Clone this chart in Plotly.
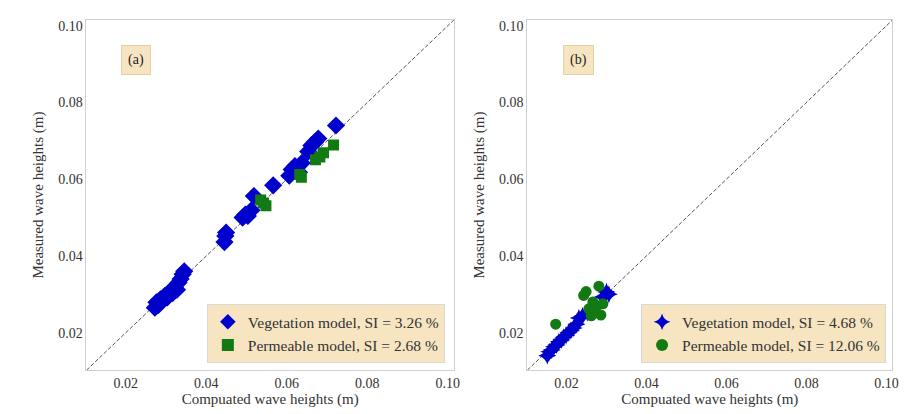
import plotly.graph_objects as go

# Panel (a): computed vs measured wave heights (m)
veg_a_x = [0.0272, 0.0276, 0.0281, 0.0286, 0.0291, 0.0297, 0.0303, 0.0309, 0.0316, 0.0322,
           0.0327, 0.0331, 0.0336, 0.0341, 0.0345,
           0.0445, 0.0447, 0.0449,
           0.0490, 0.0497, 0.0503, 0.0512, 0.0518, 0.0566,
           0.0606, 0.0612, 0.0620, 0.0630, 0.0637,
           0.0653, 0.0661, 0.0670, 0.0678, 0.0722]
veg_a_y = [0.0265, 0.0279, 0.0272, 0.0287, 0.0284, 0.0296, 0.0292, 0.0307, 0.0303, 0.0318,
           0.0312, 0.0331, 0.0340, 0.0352, 0.0360,
           0.0436, 0.0452, 0.0461,
           0.0500, 0.0508, 0.0504, 0.0519, 0.0556, 0.0584,
           0.0609, 0.0625, 0.0634, 0.0618, 0.0642,
           0.0672, 0.0688, 0.0697, 0.0706, 0.0740]
perm_a_x = [0.0535, 0.0542, 0.0548, 0.0632, 0.0636, 0.0671, 0.0682, 0.0691, 0.0716]
perm_a_y = [0.0546, 0.0538, 0.0531, 0.0612, 0.0605, 0.0651, 0.0658, 0.0669, 0.0689]

# Panel (b)
veg_b_x = [0.0152, 0.0157, 0.0163, 0.0169, 0.0175, 0.0181, 0.0187, 0.0193, 0.0199, 0.0205,
           0.0211, 0.0218, 0.0225, 0.0231, 0.0240, 0.0252, 0.0291, 0.0300, 0.0306]
veg_b_y = [0.0140, 0.0150, 0.0155, 0.0163, 0.0168, 0.0176, 0.0181, 0.0188, 0.0193, 0.0200,
           0.0205, 0.0212, 0.0222, 0.0238, 0.0243, 0.0252, 0.0293, 0.0306, 0.0300]
perm_b_x = [0.0173, 0.0243, 0.0249, 0.0256, 0.0262, 0.0266, 0.0270, 0.0276, 0.0281, 0.0286, 0.0291]
perm_b_y = [0.0222, 0.0297, 0.0307, 0.0262, 0.0244, 0.0280, 0.0258, 0.0270, 0.0321, 0.0246, 0.0275]

ax_range = [0.0102, 0.1015]
tick_vals = [0.02, 0.04, 0.06, 0.08, 0.10]
tick_text = ["0.02", "0.04", "0.06", "0.08", "0.10"]

BLUE = "#0000cc"
GREEN = "#127a12"
WHEAT = "rgba(245,222,179,0.8)"
FONT = "Liberation Serif"

fig = go.Figure()

# 1:1 reference lines
for xa, ya in (("x", "y"), ("x2", "y2")):
    fig.add_trace(go.Scatter(x=ax_range, y=ax_range, mode="lines", xaxis=xa, yaxis=ya,
                             line=dict(color="#555555", width=1, dash="4px,2px"),
                             showlegend=False, hoverinfo="skip"))

fig.add_trace(go.Scatter(x=veg_a_x, y=veg_a_y, mode="markers", xaxis="x", yaxis="y",
                         name="Vegetation model, SI = 3.26 %", legend="legend",
                         marker=dict(symbol="diamond", size=14, color=BLUE)))
fig.add_trace(go.Scatter(x=perm_a_x, y=perm_a_y, mode="markers", xaxis="x", yaxis="y",
                         name="Permeable model, SI = 2.68 %", legend="legend",
                         marker=dict(symbol="square", size=11, color=GREEN)))
fig.add_trace(go.Scatter(x=veg_b_x, y=veg_b_y, mode="markers", xaxis="x2", yaxis="y2",
                         name="Vegetation model, SI = 4.68 %", legend="legend2",
                         marker=dict(symbol="star-diamond", size=13, color=BLUE)))
fig.add_trace(go.Scatter(x=perm_b_x, y=perm_b_y, mode="markers", xaxis="x2", yaxis="y2",
                         name="Permeable model, SI = 12.06 %", legend="legend2",
                         marker=dict(symbol="circle", size=11, color=GREEN)))

axis_common = dict(range=ax_range, tickvals=tick_vals, ticktext=tick_text, showgrid=False,
                   zeroline=False, showline=True, mirror=True, linecolor="#d0d0d0", linewidth=1,
                   ticks="", tickfont=dict(family=FONT, size=14, color="#333333"))
title_font = dict(family=FONT, size=15, color="#333333")

legend_common = dict(bgcolor=WHEAT, bordercolor="#d8d8d8", borderwidth=1,
                     font=dict(family=FONT, size=15.5, color="#333333"),
                     xanchor="right", yanchor="bottom", itemsizing="constant",
                     tracegroupgap=0)

fig.update_layout(
    width=912, height=414,
    margin=dict(l=0, r=0, t=0, b=0),
    paper_bgcolor="white", plot_bgcolor="white",
    font=dict(family=FONT),
    xaxis=dict(domain=[0.0954, 0.501], anchor="y",
               title=dict(text="Compuated wave heights (m)", font=title_font, standoff=2),
               **axis_common),
    yaxis=dict(domain=[0.106, 0.954], anchor="x",
               title=dict(text="Measured wave heights (m)", font=title_font, standoff=10),
               **axis_common),
    xaxis2=dict(domain=[0.582, 0.985], anchor="y2",
                title=dict(text="Compuated wave heights (m)", font=title_font, standoff=2),
                **axis_common),
    yaxis2=dict(domain=[0.106, 0.954], anchor="x2",
                title=dict(text="Measured wave heights (m)", font=title_font, standoff=10),
                **axis_common),
    legend=dict(x=0.491, y=0.123, **legend_common),
    legend2=dict(x=0.978, y=0.123, **legend_common),
    annotations=[
        dict(text="(a)", x=0.0225, y=0.0912, xref="x", yref="y", showarrow=False,
             font=dict(family=FONT, size=14, color="#222222"), bgcolor=WHEAT,
             bordercolor="#e6cfa3", borderwidth=1, borderpad=6),
        dict(text="(b)", x=0.0229, y=0.0912, xref="x2", yref="y2", showarrow=False,
             font=dict(family=FONT, size=14, color="#222222"), bgcolor=WHEAT,
             bordercolor="#e6cfa3", borderwidth=1, borderpad=6),
    ],
)

fig.write_html("out.html")
